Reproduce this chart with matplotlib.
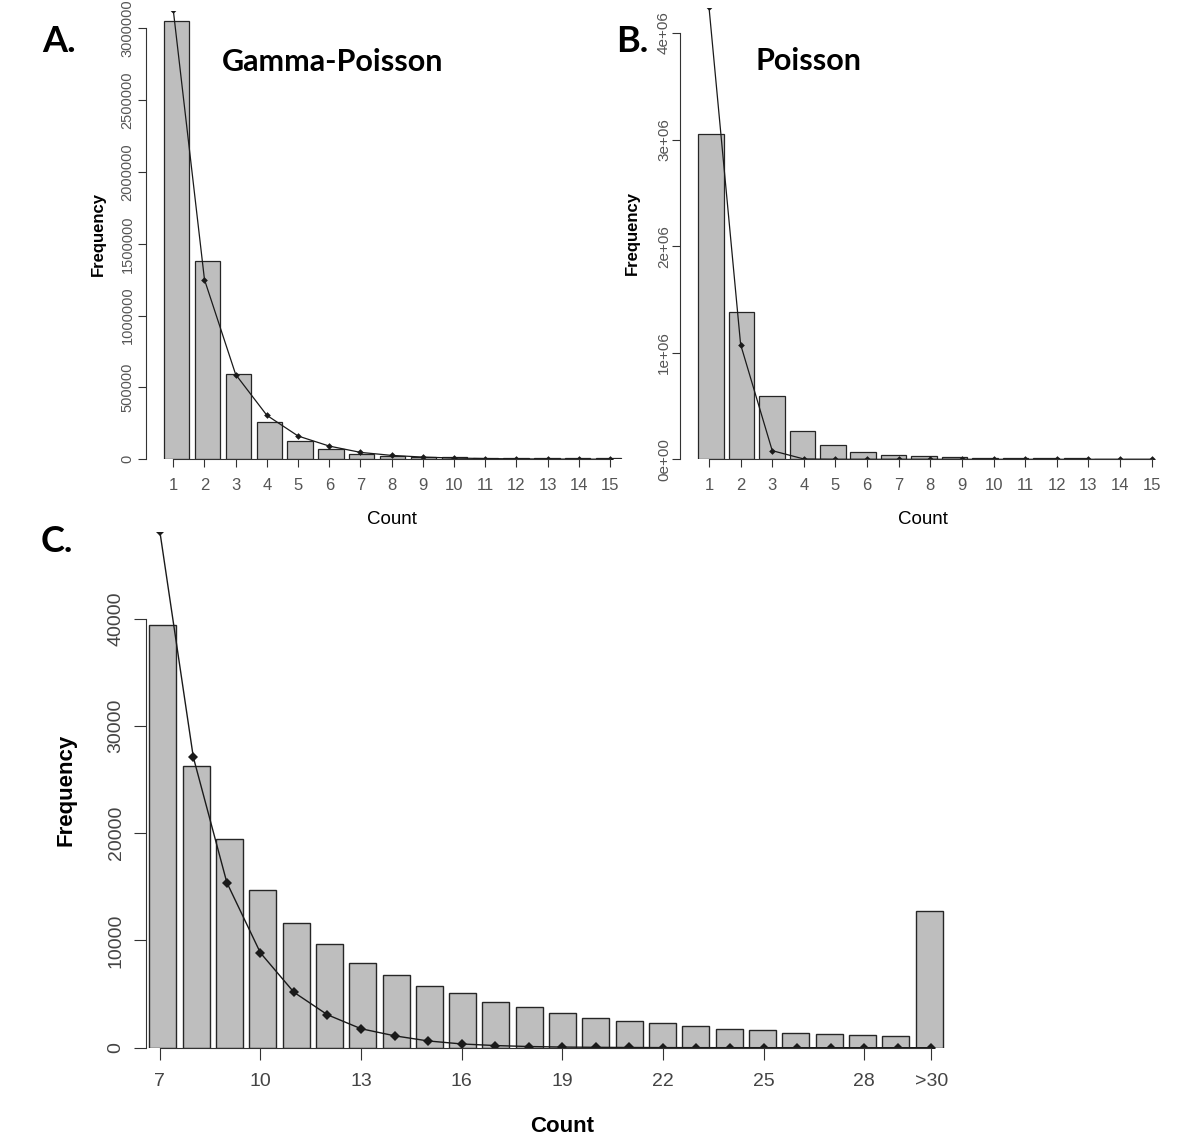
import numpy as np
import matplotlib.pyplot as plt

# panels A and B: counts 1..15
counts = np.arange(1, 16)
observed = [3050000, 1378000, 593000, 262000, 130000, 70000, 39450, 26290,
            19430, 14680, 11620, 9660, 7930, 6790, 5720]
gamma_poisson_fit = [3125000, 1250000, 590000, 306000, 162000, 92000, 48200,
                     27100, 15400, 8850, 5170, 3070, 1770, 1110, 630]
poisson_fit = [4240000, 1077000, 81000, 3000, 0, 0, 0, 0, 0, 0, 0, 0, 0, 0, 0]

# panel C: tail, counts 7..29 and >30
tail_labels = [str(c) for c in range(7, 30)] + [">30"]
tail_observed = [39450, 26290, 19430, 14680, 11620, 9660, 7930, 6790, 5720,
                 5090, 4280, 3840, 3280, 2770, 2510, 2280, 2000, 1730, 1620,
                 1410, 1300, 1180, 1070, 12720]
tail_fit = [48200, 27100, 15400, 8850, 5170, 3070, 1770, 1110, 630, 350, 200,
            110, 60, 35, 20, 10, 5, 3, 2, 1, 0, 0, 0, 0]
tail_ticks = ["7", "10", "13", "16", "19", "22", "25", "28", ">30"]

W, H = 1200, 1140
BAR = "#bebebe"
EDGE = "#262626"
NARROW = ["Liberation Sans Narrow", "Liberation Sans"]
SANS = ["Liberation Sans", "DejaVu Sans"]
TITLE = ["Lato", "DejaVu Sans"]

fig = plt.figure(figsize=(W / 100, H / 100), dpi=100)


def px_axes(left, top, right, bottom):
    return fig.add_axes([left / W, 1 - bottom / H, (right - left) / W, (bottom - top) / H])


def style(ax, xb, yb, ticklen, lab_color):
    for s in ["top", "right"]:
        ax.spines[s].set_visible(False)
    ax.spines["left"].set_bounds(0, yb)
    ax.spines["bottom"].set_bounds(xb[0], xb[1])
    for s in ["left", "bottom"]:
        ax.spines[s].set_color("#333333")
        ax.spines[s].set_linewidth(0.8)
    ax.tick_params(direction="out", length=ticklen, width=0.8, color="#333333",
                   labelcolor=lab_color)


def fig_label(ax, which, text, x, y, **kw):
    if which == "x":
        ax.set_xlabel(text, va="center", ha="center", **kw)
        ax.xaxis.set_label_coords(x / W, 1 - y / H, transform=fig.transFigure)
    else:
        ax.set_ylabel(text, va="center", ha="center", **kw)
        ax.yaxis.set_label_coords(x / W, 1 - y / H, transform=fig.transFigure)


# ---- A. Gamma-Poisson
axA = px_axes(146, 11, 630, 459.3)
idx = np.arange(len(counts))
axA.bar(1.109 + 0.989 * idx, observed, width=0.81, color=BAR, edgecolor=EDGE, linewidth=0.9)
axA.plot(counts, gamma_poisson_fit, color="#1a1a1a", lw=0.9, marker="D", ms=3.4, mew=0)
axA.set_xlim(0.125, 15.64)
axA.set_ylim(0, 3.12e6)
style(axA, (1, 15), 3e6, 5.7, "#555555")
axA.set_xticks(counts)
axA.set_xticklabels([str(c) for c in counts], family=NARROW, fontsize=12)
yt = np.arange(0, 3000001, 500000)
axA.set_yticks(yt)
axA.set_yticklabels([str(v) for v in yt], family=SANS, fontsize=10.5,
                    rotation=90, va="center")
axA.tick_params(axis="x", pad=7.5)
axA.tick_params(axis="y", pad=2.4)
fig_label(axA, "y", "Frequency", 98, 234, family=SANS, fontsize=12, fontweight="bold")
fig_label(axA, "x", "Count", 392, 519, family=NARROW, fontsize=13.5)

# ---- B. Poisson
axB = px_axes(680.4, 8, 1168, 459.3)
axB.bar(1.063 + 0.963 * idx, observed, width=0.806, color=BAR, edgecolor=EDGE, linewidth=0.9)
axB.plot(counts, poisson_fit, color="#1a1a1a", lw=0.9, marker="D", ms=3.4, mew=0)
axB.set_xlim(0.095, 15.52)
axB.set_ylim(0, 4.234e6)
style(axB, (1, 15), 4e6, 5.7, "#555555")
axB.set_xticks(counts)
axB.set_xticklabels([str(c) for c in counts], family=NARROW, fontsize=12)
ytb = [0, 1e6, 2e6, 3e6, 4e6]
axB.set_yticks(ytb)
axB.set_yticklabels(["0e+00", "1e+06", "2e+06", "3e+06", "4e+06"], family=SANS,
                    fontsize=11, rotation=90, va="center")
axB.tick_params(axis="x", pad=7.5)
axB.tick_params(axis="y", pad=1)
fig_label(axB, "y", "Frequency", 632, 233, family=SANS, fontsize=12, fontweight="bold")
fig_label(axB, "x", "Count", 923, 520, family=NARROW, fontsize=13.5)

# ---- C. tail
axC = px_axes(146.3, 532, 950, 1047.7)
tidx = np.arange(len(tail_labels))
tail_x = 7 + tidx
axC.bar(7.089 + 0.9934 * tidx, tail_observed, width=0.805, color=BAR, edgecolor=EDGE,
        linewidth=1.0)
axC.plot(tail_x, tail_fit, color="#1a1a1a", lw=1.0, marker="D", ms=5, mew=0)
axC.set_xlim(6.598, 30.56)
axC.set_ylim(0, 48106)
style(axC, (7, 30), 40000, 8.6, "#444444")
axC.set_xticks([tail_x[tail_labels.index(t)] for t in tail_ticks])
axC.set_xticklabels(tail_ticks, family=SANS, fontsize=14)
ytc = np.arange(0, 40001, 10000)
axC.set_yticks(ytc)
axC.set_yticklabels([str(v) for v in ytc], family=SANS, fontsize=14, rotation=90,
                    va="center")
axC.tick_params(axis="x", pad=9.4)
axC.tick_params(axis="y", pad=7)
fig_label(axC, "y", "Frequency", 66, 790, family=SANS, fontsize=16, fontweight="bold")
fig_label(axC, "x", "Count", 562.5, 1126, family=SANS, fontsize=16, fontweight="bold")

# panel letters and titles
for txt, x, y, size in [("A.", 59.5, 42, 26), ("B.", 632, 41, 26), ("C.", 57, 542, 26),
                        ("Gamma-Poisson", 333, 62, 22), ("Poisson", 809, 61, 22)]:
    fig.text(x / W, 1 - y / H, txt, family=TITLE, fontsize=size, fontweight="bold",
             ha="center", va="center")

fig.savefig("out.png", dpi=100)
